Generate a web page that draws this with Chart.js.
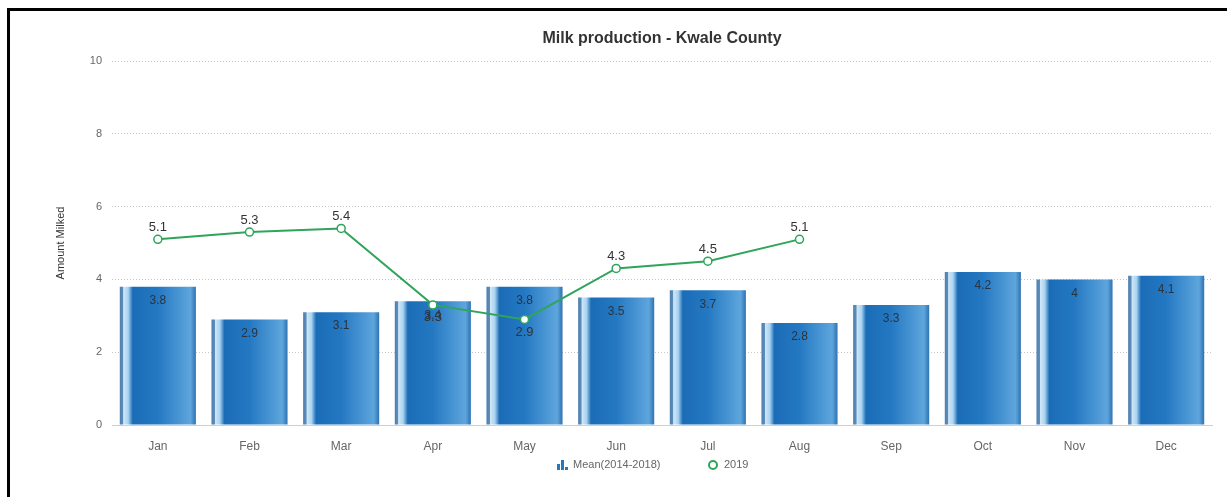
<!DOCTYPE html>
<html>
<head>
<meta charset="utf-8">
<title>Milk production - Kwale County</title>
<script src="https://cdn.jsdelivr.net/npm/chart.js@4.4.0/dist/chart.umd.min.js"></script>
<style>
    html, body { margin: 0; padding: 0; background: #fff; overflow: hidden; }
    #wrap { position: absolute; left: 0; top: 0; width: 1227px; height: 497px; }
    #frame {
        position: absolute; left: 7px; top: 8px; width: 1260px; height: 540px;
        border: 3px solid #000; pointer-events: none;
    }
</style>
</head>
<body>
<div id="wrap"><canvas id="milkChart" width="1227" height="497"></canvas></div>
<div id="frame"></div>
<script>
const months = ['Jan', 'Feb', 'Mar', 'Apr', 'May', 'Jun', 'Jul', 'Aug', 'Sep', 'Oct', 'Nov', 'Dec'];
const meanValues = [3.8, 2.9, 3.1, 3.4, 3.8, 3.5, 3.7, 2.8, 3.3, 4.2, 4, 4.1];
const values2019 = [5.1, 5.3, 5.4, 3.3, 2.9, 4.3, 4.5, 5.1, null, null, null, null];
const yTicks = [0, 2, 4, 6, 8, 10];

const FONT = '"Liberation Sans", Arial, Helvetica, sans-serif';
const GREEN = '#2fa45a';
const BAR_RATIO = 0.83;

document.addEventListener('DOMContentLoaded', function() {

    // cylinder-like shading across each bar
    function barGradient(context) {
        const chart = context.chart;
        const xScale = chart.scales.x;
        if (!chart.chartArea || !xScale) return '#2b80c8';
        const cx = xScale.getPixelForValue(context.dataIndex);
        const w = xScale.width / months.length * BAR_RATIO;
        const g = chart.ctx.createLinearGradient(cx - w / 2, 0, cx + w / 2, 0);
        g.addColorStop(0, '#4f7fae');
        g.addColorStop(0.04, '#5d8dbb');
        g.addColorStop(0.05, '#cfe7f7');
        g.addColorStop(0.11, '#a9d3f1');
        g.addColorStop(0.17, '#1b6cb6');
        g.addColorStop(0.5, '#2478c2');
        g.addColorStop(0.82, '#4f9ad6');
        g.addColorStop(0.93, '#5ea5dc');
        g.addColorStop(1, '#2d72b2');
        return g;
    }

    // value labels, chart title and legend drawn on the canvas
    const decorations = {
        id: 'decorations',
        afterDatasetsDraw(chart) {
            const ctx = chart.ctx;
            const area = chart.chartArea;
            ctx.save();
            ctx.textAlign = 'center';
            ctx.textBaseline = 'middle';

            // bar values inside the top of each bar
            ctx.font = '12px ' + FONT;
            ctx.fillStyle = '#2a3440';
            chart.getDatasetMeta(1).data.forEach((bar, i) => {
                ctx.fillText(String(meanValues[i]), bar.x, bar.y + 14);
            });

            // 2019 values next to the points
            ctx.font = '13px ' + FONT;
            ctx.fillStyle = '#333';
            const below = ['Apr', 'May'];
            chart.getDatasetMeta(0).data.forEach((pt, i) => {
                if (values2019[i] === null) return;
                const dy = below.includes(months[i]) ? 13 : -12;
                ctx.fillText(String(values2019[i]), pt.x, pt.y + dy);
            });

            // title
            const midX = (area.left + area.right) / 2;
            ctx.font = 'bold 16px ' + FONT;
            ctx.fillStyle = '#333';
            ctx.fillText('Milk production - Kwale County', midX, 39);

            // legend
            ctx.font = '11px ' + FONT;
            ctx.textAlign = 'left';
            const ly = 465;
            ctx.fillStyle = '#2478c2';
            ctx.fillRect(557, ly - 1, 3, 6);
            ctx.fillRect(561, ly - 5, 3, 10);
            ctx.fillRect(565, ly + 2, 3, 3);
            ctx.fillStyle = '#666';
            ctx.fillText('Mean(2014-2018)', 573, ly);
            ctx.beginPath();
            ctx.arc(713, ly, 4, 0, Math.PI * 2);
            ctx.fillStyle = '#fff';
            ctx.fill();
            ctx.lineWidth = 2;
            ctx.strokeStyle = GREEN;
            ctx.stroke();
            ctx.fillStyle = '#666';
            ctx.fillText('2019', 724, ly);
            ctx.restore();
        }
    };

    const canvas = document.getElementById('milkChart');
    new Chart(canvas, {
        data: {
            labels: months,
            datasets: [
                {
                    type: 'line',
                    label: '2019',
                    data: values2019,
                    order: 0,
                    borderColor: GREEN,
                    borderWidth: 2,
                    pointRadius: 4,
                    pointBorderWidth: 1.5,
                    pointBackgroundColor: '#fff',
                    pointBorderColor: GREEN,
                    tension: 0,
                    spanGaps: false
                },
                {
                    type: 'bar',
                    label: 'Mean(2014-2018)',
                    data: meanValues,
                    order: 1,
                    backgroundColor: barGradient,
                    borderWidth: 0,
                    categoryPercentage: 1,
                    barPercentage: BAR_RATIO
                }
            ]
        },
        options: {
            responsive: false,
            animation: false,
            layout: { padding: { left: 0, right: 15, top: 61, bottom: 0 } },
            plugins: {
                legend: { display: false },
                tooltip: { enabled: false },
                title: { display: false }
            },
            scales: {
                x: {
                    grid: { display: false },
                    border: { color: '#d3cfc8', width: 1 },
                    ticks: { color: '#666', padding: 6, font: { size: 12, family: FONT } },
                    afterFit(scale) { scale.height = 72; }
                },
                y: {
                    min: 0,
                    max: 10,
                    afterBuildTicks(scale) { scale.ticks = yTicks.map(v => ({ value: v })); },
                    grid: {
                        color: 'rgba(0,0,0,0.22)',
                        lineWidth: 1,
                        drawTicks: false
                    },
                    border: { display: false, dash: [1, 2] },
                    ticks: { color: '#666', padding: 10, font: { size: 11, family: FONT } },
                    title: {
                        display: true,
                        text: 'Amount Milked',
                        color: '#333',
                        font: { size: 11, family: FONT },
                        padding: { top: 54, bottom: 0 }
                    },
                    afterFit(scale) { scale.width = 112; }
                }
            }
        },
        plugins: [decorations]
    });
});
</script>
</body>
</html>
